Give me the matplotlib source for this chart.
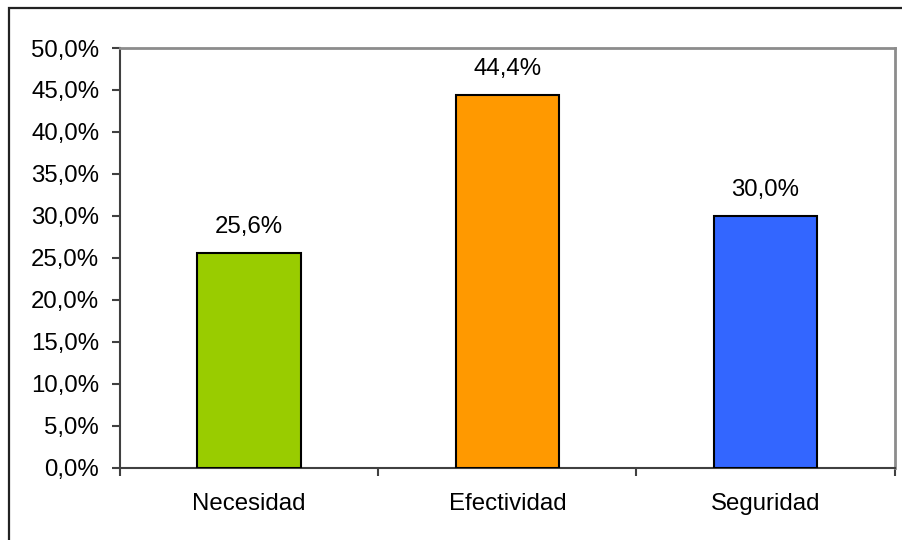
import matplotlib
matplotlib.use("Agg")
import matplotlib.pyplot as plt
from matplotlib.patches import Rectangle
from matplotlib.ticker import FixedLocator

categories = ["Necesidad", "Efectividad", "Seguridad"]
values = [25.6, 44.4, 30.0]
colors = ["#99CC00", "#FF9900", "#3366FF"]
yticks = [0, 5, 10, 15, 20, 25, 30, 35, 40, 45, 50]

plt.rcParams['font.family'] = ['Liberation Sans', 'DejaVu Sans']
FS = 17.3

W, H = 902, 540
fig = plt.figure(figsize=(W / 100, H / 100), dpi=100)
ax = fig.add_axes([120 / W, (H - 467.7) / H, (894.7 - 120) / W, (467.7 - 48) / H])

x = list(range(len(categories)))
ax.bar(x, values, width=0.4, color=colors, edgecolor="black", linewidth=1.5, zorder=3)

for xi, v in zip(x, values):
    ax.annotate(f"{v:.1f}%".replace(".", ","), (xi, v), xytext=(0, 10.5),
                textcoords="offset points", ha="center", va="bottom", fontsize=FS)

ax.set_xlim(-0.5, 2.5)
ax.set_ylim(0, 50)
ax.set_yticks(yticks)
ax.set_yticklabels([f"{t:.1f}%".replace(".", ",") for t in yticks], fontsize=FS)
ax.set_xticks(x)
ax.set_xticklabels(categories, fontsize=FS)
ax.xaxis.set_minor_locator(FixedLocator([-0.5, 0.5, 1.5, 2.5]))
ax.tick_params(axis="x", which="major", length=0, pad=18.5)
ax.tick_params(axis="x", which="minor", length=6, width=1.5, color="#404040", direction="out")
ax.tick_params(axis="y", length=6, width=1.5, color="#404040", pad=9)

for s in ["left", "bottom"]:
    ax.spines[s].set_color("#404040")
    ax.spines[s].set_linewidth(1.5)
for s in ["top", "right"]:
    ax.spines[s].set_color("#8C8C8C")
    ax.spines[s].set_linewidth(2)

fig.patches.append(Rectangle((9 / W, -0.1), 1.2, (H - 8) / H + 0.1, transform=fig.transFigure,
                             fill=False, edgecolor="#222222", linewidth=1.6, zorder=0))

fig.savefig("out.png", dpi=100)
